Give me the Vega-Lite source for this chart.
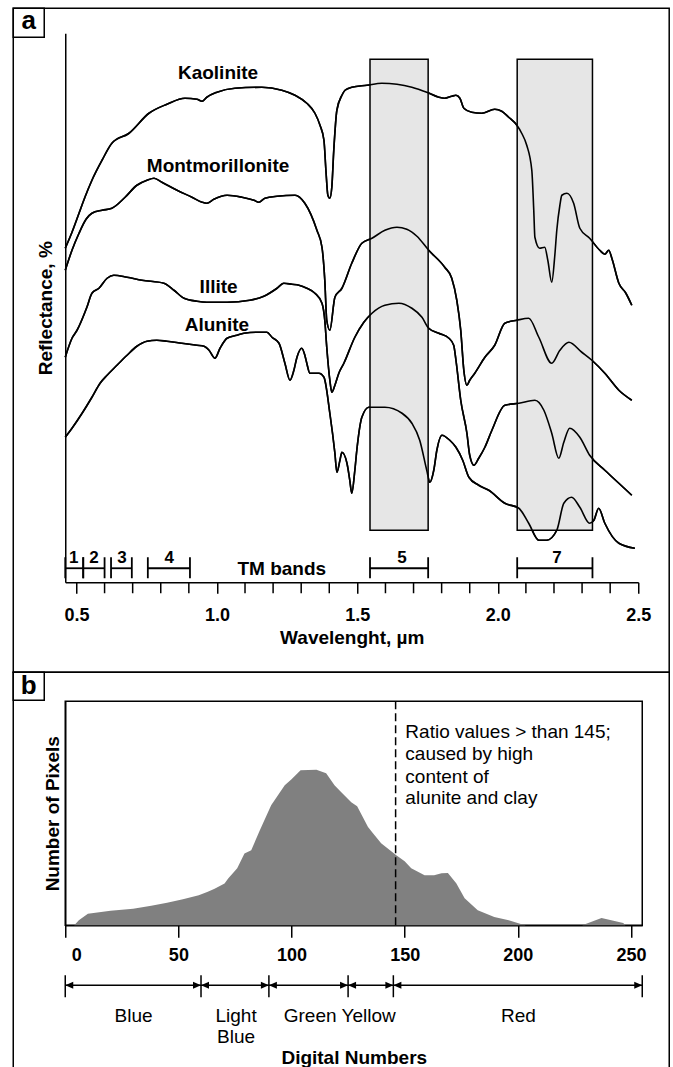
{
  "$schema": "https://vega.github.io/schema/vega-lite/v6.json",
  "background": "white",
  "padding": {"left": 11.25, "top": 7.25, "right": 0, "bottom": 0},
  "spacing": 119,
  "bounds": "flush",
  "config": {
    "font": "Liberation Sans",
    "view": {"stroke": null},
    "axis": {
      "domainColor": "black", "domainWidth": 1.5, "tickColor": "black", "tickWidth": 1.5,
      "labelColor": "black", "titleColor": "black", "labelFont": "Liberation Sans", "titleFont": "Liberation Sans",
      "labelFontWeight": "bold", "titleFontWeight": "bold", "labelFontSize": 18, "titleFontSize": 19,
      "grid": false, "labelOverlap": false, "labelBound": false
    }
  },
  "datasets": {
    "curves": [
      {"m":"Kaolinite","w":0.46,"r":334},{"m":"Kaolinite","w":0.484,"r":350},{"m":"Kaolinite","w":0.509,"r":369},{"m":"Kaolinite","w":0.53,"r":385},{"m":"Kaolinite","w":0.555,"r":402},{"m":"Kaolinite","w":0.591,"r":422},{"m":"Kaolinite","w":0.626,"r":439},{"m":"Kaolinite","w":0.687,"r":449},{"m":"Kaolinite","w":0.758,"r":469},{"m":"Kaolinite","w":0.822,"r":478},{"m":"Kaolinite","w":0.886,"r":484},{"m":"Kaolinite","w":0.929,"r":483},{"m":"Kaolinite","w":0.947,"r":481},{"m":"Kaolinite","w":0.964,"r":485},{"m":"Kaolinite","w":1.0,"r":490},{"m":"Kaolinite","w":1.064,"r":494},{"m":"Kaolinite","w":1.16,"r":495},{"m":"Kaolinite","w":1.231,"r":492},{"m":"Kaolinite","w":1.278,"r":487},{"m":"Kaolinite","w":1.32,"r":479},{"m":"Kaolinite","w":1.349,"r":469},{"m":"Kaolinite","w":1.367,"r":457},{"m":"Kaolinite","w":1.381,"r":442},{"m":"Kaolinite","w":1.388,"r":412},{"m":"Kaolinite","w":1.395,"r":387},{"m":"Kaolinite","w":1.402,"r":384},{"m":"Kaolinite","w":1.409,"r":395},{"m":"Kaolinite","w":1.416,"r":432},{"m":"Kaolinite","w":1.427,"r":472},{"m":"Kaolinite","w":1.445,"r":487},{"m":"Kaolinite","w":1.456,"r":492},{"m":"Kaolinite","w":1.48,"r":495},{"m":"Kaolinite","w":1.534,"r":497},{"m":"Kaolinite","w":1.587,"r":499},{"m":"Kaolinite","w":1.641,"r":498},{"m":"Kaolinite","w":1.694,"r":495},{"m":"Kaolinite","w":1.747,"r":490},{"m":"Kaolinite","w":1.79,"r":485},{"m":"Kaolinite","w":1.811,"r":484},{"m":"Kaolinite","w":1.836,"r":486},{"m":"Kaolinite","w":1.851,"r":487},{"m":"Kaolinite","w":1.865,"r":484},{"m":"Kaolinite","w":1.879,"r":474},{"m":"Kaolinite","w":1.907,"r":470},{"m":"Kaolinite","w":1.943,"r":469},{"m":"Kaolinite","w":1.989,"r":473},{"m":"Kaolinite","w":2.014,"r":471},{"m":"Kaolinite","w":2.039,"r":465},{"m":"Kaolinite","w":2.068,"r":457},{"m":"Kaolinite","w":2.085,"r":449},{"m":"Kaolinite","w":2.103,"r":437},{"m":"Kaolinite","w":2.121,"r":412},{"m":"Kaolinite","w":2.128,"r":372},{"m":"Kaolinite","w":2.132,"r":345},{"m":"Kaolinite","w":2.149,"r":334},{"m":"Kaolinite","w":2.167,"r":335},{"m":"Kaolinite","w":2.178,"r":322},{"m":"Kaolinite","w":2.192,"r":300},{"m":"Kaolinite","w":2.203,"r":327},{"m":"Kaolinite","w":2.21,"r":352},{"m":"Kaolinite","w":2.221,"r":377},{"m":"Kaolinite","w":2.228,"r":387},{"m":"Kaolinite","w":2.246,"r":389},{"m":"Kaolinite","w":2.27,"r":379},{"m":"Kaolinite","w":2.292,"r":354},{"m":"Kaolinite","w":2.327,"r":344},{"m":"Kaolinite","w":2.363,"r":332},{"m":"Kaolinite","w":2.381,"r":328},{"m":"Kaolinite","w":2.395,"r":332},{"m":"Kaolinite","w":2.406,"r":324},{"m":"Kaolinite","w":2.431,"r":299},{"m":"Kaolinite","w":2.456,"r":289},{"m":"Kaolinite","w":2.477,"r":277},
      {"m":"Montmorillonite","w":0.46,"r":312},{"m":"Montmorillonite","w":0.484,"r":332},{"m":"Montmorillonite","w":0.509,"r":349},{"m":"Montmorillonite","w":0.534,"r":363},{"m":"Montmorillonite","w":0.555,"r":369},{"m":"Montmorillonite","w":0.591,"r":372},{"m":"Montmorillonite","w":0.626,"r":374},{"m":"Montmorillonite","w":0.673,"r":385},{"m":"Montmorillonite","w":0.715,"r":397},{"m":"Montmorillonite","w":0.751,"r":402},{"m":"Montmorillonite","w":0.776,"r":404},{"m":"Montmorillonite","w":0.804,"r":400},{"m":"Montmorillonite","w":0.858,"r":392},{"m":"Montmorillonite","w":0.911,"r":385},{"m":"Montmorillonite","w":0.947,"r":380},{"m":"Montmorillonite","w":0.964,"r":379},{"m":"Montmorillonite","w":0.989,"r":383},{"m":"Montmorillonite","w":1.036,"r":387},{"m":"Montmorillonite","w":1.089,"r":385},{"m":"Montmorillonite","w":1.132,"r":382},{"m":"Montmorillonite","w":1.149,"r":380},{"m":"Montmorillonite","w":1.171,"r":384},{"m":"Montmorillonite","w":1.214,"r":386},{"m":"Montmorillonite","w":1.278,"r":387},{"m":"Montmorillonite","w":1.313,"r":379},{"m":"Montmorillonite","w":1.356,"r":352},{"m":"Montmorillonite","w":1.374,"r":335},{"m":"Montmorillonite","w":1.384,"r":302},{"m":"Montmorillonite","w":1.391,"r":262},{"m":"Montmorillonite","w":1.402,"r":252},{"m":"Montmorillonite","w":1.42,"r":285},{"m":"Montmorillonite","w":1.445,"r":294},{"m":"Montmorillonite","w":1.48,"r":319},{"m":"Montmorillonite","w":1.516,"r":339},{"m":"Montmorillonite","w":1.552,"r":344},{"m":"Montmorillonite","w":1.598,"r":352},{"m":"Montmorillonite","w":1.641,"r":355},{"m":"Montmorillonite","w":1.676,"r":353},{"m":"Montmorillonite","w":1.712,"r":346},{"m":"Montmorillonite","w":1.754,"r":332},{"m":"Montmorillonite","w":1.811,"r":315},{"m":"Montmorillonite","w":1.836,"r":304},{"m":"Montmorillonite","w":1.854,"r":282},{"m":"Montmorillonite","w":1.868,"r":252},{"m":"Montmorillonite","w":1.879,"r":212},{"m":"Montmorillonite","w":1.89,"r":197},{"m":"Montmorillonite","w":1.9,"r":202},{"m":"Montmorillonite","w":1.918,"r":209},{"m":"Montmorillonite","w":1.954,"r":225},{"m":"Montmorillonite","w":1.989,"r":237},{"m":"Montmorillonite","w":2.025,"r":259},{"m":"Montmorillonite","w":2.068,"r":262},{"m":"Montmorillonite","w":2.11,"r":264},{"m":"Montmorillonite","w":2.146,"r":245},{"m":"Montmorillonite","w":2.192,"r":219},{"m":"Montmorillonite","w":2.221,"r":232},{"m":"Montmorillonite","w":2.253,"r":240},{"m":"Montmorillonite","w":2.299,"r":230},{"m":"Montmorillonite","w":2.335,"r":222},{"m":"Montmorillonite","w":2.381,"r":209},{"m":"Montmorillonite","w":2.431,"r":192},{"m":"Montmorillonite","w":2.477,"r":182},
      {"m":"Illite","w":0.46,"r":225},{"m":"Illite","w":0.484,"r":244},{"m":"Illite","w":0.502,"r":252},{"m":"Illite","w":0.537,"r":275},{"m":"Illite","w":0.555,"r":289},{"m":"Illite","w":0.58,"r":294},{"m":"Illite","w":0.609,"r":304},{"m":"Illite","w":0.633,"r":307},{"m":"Illite","w":0.68,"r":305},{"m":"Illite","w":0.733,"r":302},{"m":"Illite","w":0.811,"r":299},{"m":"Illite","w":0.847,"r":292},{"m":"Illite","w":0.883,"r":284},{"m":"Illite","w":0.929,"r":281},{"m":"Illite","w":0.964,"r":280},{"m":"Illite","w":1.036,"r":280},{"m":"Illite","w":1.117,"r":282},{"m":"Illite","w":1.167,"r":286},{"m":"Illite","w":1.214,"r":294},{"m":"Illite","w":1.238,"r":299},{"m":"Illite","w":1.267,"r":298},{"m":"Illite","w":1.292,"r":297},{"m":"Illite","w":1.32,"r":294},{"m":"Illite","w":1.349,"r":289},{"m":"Illite","w":1.374,"r":279},{"m":"Illite","w":1.384,"r":262},{"m":"Illite","w":1.391,"r":235},{"m":"Illite","w":1.402,"r":202},{"m":"Illite","w":1.409,"r":190},{"m":"Illite","w":1.42,"r":197},{"m":"Illite","w":1.434,"r":209},{"m":"Illite","w":1.452,"r":219},{"m":"Illite","w":1.491,"r":245},{"m":"Illite","w":1.523,"r":260},{"m":"Illite","w":1.552,"r":269},{"m":"Illite","w":1.598,"r":277},{"m":"Illite","w":1.648,"r":279},{"m":"Illite","w":1.694,"r":274},{"m":"Illite","w":1.73,"r":265},{"m":"Illite","w":1.754,"r":254},{"m":"Illite","w":1.79,"r":249},{"m":"Illite","w":1.826,"r":244},{"m":"Illite","w":1.843,"r":237},{"m":"Illite","w":1.851,"r":222},{"m":"Illite","w":1.868,"r":182},{"m":"Illite","w":1.89,"r":149},{"m":"Illite","w":1.9,"r":127},{"m":"Illite","w":1.915,"r":117},{"m":"Illite","w":1.932,"r":124},{"m":"Illite","w":1.954,"r":135},{"m":"Illite","w":1.979,"r":152},{"m":"Illite","w":2.025,"r":177},{"m":"Illite","w":2.075,"r":179},{"m":"Illite","w":2.132,"r":182},{"m":"Illite","w":2.164,"r":172},{"m":"Illite","w":2.192,"r":149},{"m":"Illite","w":2.217,"r":124},{"m":"Illite","w":2.235,"r":140},{"m":"Illite","w":2.256,"r":154},{"m":"Illite","w":2.292,"r":145},{"m":"Illite","w":2.327,"r":127},{"m":"Illite","w":2.381,"r":112},{"m":"Illite","w":2.431,"r":99},{"m":"Illite","w":2.477,"r":87},
      {"m":"Alunite","w":0.46,"r":145},{"m":"Alunite","w":0.484,"r":154},{"m":"Alunite","w":0.52,"r":169},{"m":"Alunite","w":0.555,"r":185},{"m":"Alunite","w":0.584,"r":199},{"m":"Alunite","w":0.609,"r":207},{"m":"Alunite","w":0.644,"r":217},{"m":"Alunite","w":0.68,"r":227},{"m":"Alunite","w":0.715,"r":236},{"m":"Alunite","w":0.751,"r":241},{"m":"Alunite","w":0.786,"r":242},{"m":"Alunite","w":0.822,"r":241},{"m":"Alunite","w":0.875,"r":239},{"m":"Alunite","w":0.929,"r":237},{"m":"Alunite","w":0.954,"r":236},{"m":"Alunite","w":0.972,"r":232},{"m":"Alunite","w":0.993,"r":224},{"m":"Alunite","w":1.011,"r":234},{"m":"Alunite","w":1.036,"r":244},{"m":"Alunite","w":1.071,"r":247},{"m":"Alunite","w":1.096,"r":249},{"m":"Alunite","w":1.142,"r":250},{"m":"Alunite","w":1.178,"r":250},{"m":"Alunite","w":1.196,"r":245},{"m":"Alunite","w":1.221,"r":239},{"m":"Alunite","w":1.242,"r":219},{"m":"Alunite","w":1.26,"r":202},{"m":"Alunite","w":1.274,"r":212},{"m":"Alunite","w":1.285,"r":225},{"m":"Alunite","w":1.302,"r":234},{"m":"Alunite","w":1.313,"r":227},{"m":"Alunite","w":1.32,"r":219},{"m":"Alunite","w":1.331,"r":209},{"m":"Alunite","w":1.363,"r":209},{"m":"Alunite","w":1.381,"r":205},{"m":"Alunite","w":1.402,"r":169},{"m":"Alunite","w":1.42,"r":129},{"m":"Alunite","w":1.427,"r":110},{"m":"Alunite","w":1.438,"r":122},{"m":"Alunite","w":1.445,"r":130},{"m":"Alunite","w":1.463,"r":119},{"m":"Alunite","w":1.473,"r":102},{"m":"Alunite","w":1.48,"r":89},{"m":"Alunite","w":1.491,"r":112},{"m":"Alunite","w":1.498,"r":132},{"m":"Alunite","w":1.516,"r":165},{"m":"Alunite","w":1.541,"r":175},{"m":"Alunite","w":1.598,"r":175},{"m":"Alunite","w":1.659,"r":169},{"m":"Alunite","w":1.694,"r":159},{"m":"Alunite","w":1.722,"r":142},{"m":"Alunite","w":1.747,"r":112},{"m":"Alunite","w":1.758,"r":100},{"m":"Alunite","w":1.772,"r":112},{"m":"Alunite","w":1.783,"r":132},{"m":"Alunite","w":1.801,"r":147},{"m":"Alunite","w":1.829,"r":142},{"m":"Alunite","w":1.851,"r":135},{"m":"Alunite","w":1.875,"r":122},{"m":"Alunite","w":1.897,"r":105},{"m":"Alunite","w":1.932,"r":97},{"m":"Alunite","w":1.968,"r":92},{"m":"Alunite","w":2.025,"r":79},{"m":"Alunite","w":2.075,"r":74},{"m":"Alunite","w":2.11,"r":59},{"m":"Alunite","w":2.146,"r":42},{"m":"Alunite","w":2.174,"r":42},{"m":"Alunite","w":2.21,"r":52},{"m":"Alunite","w":2.235,"r":79},{"m":"Alunite","w":2.263,"r":85},{"m":"Alunite","w":2.292,"r":75},{"m":"Alunite","w":2.327,"r":59},{"m":"Alunite","w":2.342,"r":62},{"m":"Alunite","w":2.359,"r":74},{"m":"Alunite","w":2.381,"r":59},{"m":"Alunite","w":2.431,"r":39},{"m":"Alunite","w":2.488,"r":34}
    ],
    "curveLabels": [
      {"t":"Kaolinite","w":1.004,"r":509},
      {"t":"Montmorillonite","w":1.004,"r":416},
      {"t":"Illite","w":1.006,"r":295},
      {"t":"Alunite","w":1.0,"r":257}
    ],
    "minorTicks": [
      {"v":0.6},{"v":0.7},{"v":0.8},{"v":0.9},{"v":1.1},{"v":1.2},{"v":1.3},{"v":1.4},{"v":1.6},{"v":1.7},{"v":1.8},{"v":1.9},{"v":2.1},{"v":2.2},{"v":2.3},{"v":2.4}
    ],
    "tmBands": [
      {"b":"1","s":0.46,"e":0.524,"c":0.49},
      {"b":"2","s":0.524,"e":0.6,"c":0.562},
      {"b":"3","s":0.623,"e":0.697,"c":0.662},
      {"b":"4","s":0.754,"e":0.904,"c":0.83},
      {"b":"5","s":1.545,"e":1.752,"c":1.659},
      {"b":"7","s":2.069,"e":2.337,"c":2.211}
    ],
    "tmRects": [
      {"b":"5","s":1.545,"e":1.752},
      {"b":"7","s":2.069,"e":2.337}
    ],
    "hist": [
      {"dn":4,"n":0},{"dn":6,"n":5},{"dn":10,"n":11.5},{"dn":15,"n":13},{"dn":20,"n":14.5},{"dn":30,"n":16.5},{"dn":38,"n":19.5},{"dn":45,"n":22.5},{"dn":52,"n":26},{"dn":59,"n":30},{"dn":63,"n":33.5},{"dn":66,"n":36.5},{"dn":70.4,"n":41.7},{"dn":72,"n":46.7},{"dn":76,"n":57},{"dn":79.2,"n":71.7},{"dn":82.2,"n":75},{"dn":86,"n":95},{"dn":91,"n":120},{"dn":94,"n":130},{"dn":97,"n":140},{"dn":100,"n":146},{"dn":104,"n":155},{"dn":111,"n":155.5},{"dn":115.3,"n":152},{"dn":119,"n":140},{"dn":122,"n":133},{"dn":126.4,"n":123},{"dn":129,"n":119},{"dn":133.8,"n":98.3},{"dn":136,"n":92},{"dn":139.6,"n":82},{"dn":146.3,"n":70},{"dn":150,"n":64},{"dn":152.9,"n":57},{"dn":158.8,"n":50},{"dn":163,"n":50},{"dn":166.3,"n":52},{"dn":169.1,"n":52.3},{"dn":172.8,"n":42},{"dn":176.5,"n":27},{"dn":182.3,"n":15},{"dn":189.6,"n":8.3},{"dn":196,"n":5},{"dn":201.7,"n":1},{"dn":203.5,"n":0},{"dn":228.5,"n":0},{"dn":237,"n":7.3},{"dn":246.6,"n":2.3},{"dn":247.5,"n":0}
    ],
    "notes": [
      {"t":"Ratio values > than 145;","dn":150.3,"n":193},
      {"t":"caused by high","dn":150.3,"n":171},
      {"t":"content of","dn":150.3,"n":148},
      {"t":"alunite and clay","dn":150.3,"n":127}
    ],
    "ranges": [
      {"s":0,"e":60},{"s":60,"e":90},{"s":90,"e":125},{"s":125,"e":145},{"s":145,"e":255}
    ],
    "bounds": [{"v":0},{"v":60},{"v":90},{"v":125},{"v":145},{"v":255}],
    "rangeLabels": [
      {"t":"Blue","dn":30.2,"n":-91},
      {"t":"Light","dn":75.5,"n":-91},
      {"t":"Blue","dn":75.5,"n":-112},
      {"t":"Green Yellow","dn":121.3,"n":-91},
      {"t":"Red","dn":200.3,"n":-91}
    ]
  },
  "vconcat": [
    {
      "width": 573,
      "height": 549,
      "view": {"stroke": null},
      "layer": [
        {
          "data": {"name": "curves"},
          "mark": {"type": "line", "color": "black", "strokeWidth": 1.6, "interpolate": "monotone"},
          "encoding": {
            "x": {
              "field": "w", "type": "quantitative",
              "scale": {"domain": [0.46, 2.5], "nice": false, "zero": false},
              "axis": {
                "title": "Wavelenght, µm",
                "values": [0.5, 1.0, 1.5, 2.0, 2.5],
                "format": ".1f",
                "tickSize": 11, "labelPadding": 13, "titlePadding": 4, "labelFlush": false,
                "labelOverlap": false
              }
            },
            "y": {
              "field": "r", "type": "quantitative",
              "scale": {"domain": [0, 549], "nice": false, "zero": false},
              "axis": {"title": "Reflectance, %", "ticks": false, "labels": false, "titlePadding": 10}
            },
            "detail": {"field": "m"}
          }
        },
        {
          "data": {"name": "minorTicks"},
          "mark": {"type": "rule", "color": "black", "strokeWidth": 1.5},
          "encoding": {
            "x": {"field": "v", "type": "quantitative"},
            "y": {"datum": 0, "type": "quantitative"},
            "y2": {"datum": -11}
          }
        },
        {
          "data": {"values": [{}]},
          "mark": {"type": "rect", "fillOpacity": 0, "stroke": "black", "strokeWidth": 1.5},
          "encoding": {
            "x": {"datum": 0.2749, "type": "quantitative"},
            "x2": {"datum": 2.6102},
            "y": {"datum": 574, "type": "quantitative"},
            "y2": {"datum": -90}
          }
        },
        {
          "data": {"values": [{}]},
          "mark": {"type": "rect", "fillOpacity": 0, "stroke": "black", "strokeWidth": 1.5},
          "encoding": {
            "x": {"datum": 0.2749, "type": "quantitative"},
            "x2": {"datum": 0.3852},
            "y": {"datum": 574, "type": "quantitative"},
            "y2": {"datum": 545}
          }
        },
        {
          "data": {"values": [{}]},
          "mark": {"type": "text", "text": "a", "fontSize": 26, "fontWeight": "bold", "color": "black", "align": "center", "baseline": "middle"},
          "encoding": {
            "x": {"datum": 0.3301, "type": "quantitative"},
            "y": {"datum": 561, "type": "quantitative"}
          }
        },
        {
          "data": {"name": "tmRects"},
          "mark": {"type": "rect", "fill": "#e6e6e6", "stroke": "black", "strokeWidth": 1.5},
          "encoding": {
            "x": {"field": "s", "type": "quantitative"},
            "x2": {"field": "e"},
            "y": {"datum": 52, "type": "quantitative"},
            "y2": {"datum": 523}
          }
        },
        {
          "data": {"name": "curves"},
          "mark": {"type": "line", "color": "black", "strokeWidth": 1.6, "interpolate": "monotone"},
          "encoding": {
            "x": {"field": "w", "type": "quantitative"},
            "y": {"field": "r", "type": "quantitative"},
            "detail": {"field": "m"}
          }
        },
        {
          "data": {"name": "curveLabels"},
          "mark": {"type": "text", "fontSize": 19, "fontWeight": "bold", "color": "black", "align": "center", "baseline": "middle"},
          "encoding": {
            "x": {"field": "w", "type": "quantitative"},
            "y": {"field": "r", "type": "quantitative"},
            "text": {"field": "t"}
          }
        },
        {
          "data": {"name": "tmBands"},
          "mark": {"type": "rule", "color": "black", "strokeWidth": 1.8},
          "encoding": {
            "x": {"field": "s", "type": "quantitative"},
            "x2": {"field": "e"},
            "y": {"datum": 14, "type": "quantitative"}
          }
        },
        {
          "data": {"name": "tmBands"},
          "mark": {"type": "rule", "color": "black", "strokeWidth": 1.8},
          "encoding": {
            "x": {"field": "s", "type": "quantitative"},
            "y": {"datum": 4, "type": "quantitative"},
            "y2": {"datum": 25}
          }
        },
        {
          "data": {"name": "tmBands"},
          "mark": {"type": "rule", "color": "black", "strokeWidth": 1.8},
          "encoding": {
            "x": {"field": "e", "type": "quantitative"},
            "y": {"datum": 4, "type": "quantitative"},
            "y2": {"datum": 25}
          }
        },
        {
          "data": {"name": "tmBands"},
          "mark": {"type": "text", "fontSize": 17, "fontWeight": "bold", "color": "black", "align": "center", "baseline": "alphabetic"},
          "encoding": {
            "x": {"field": "c", "type": "quantitative"},
            "y": {"datum": 19, "type": "quantitative"},
            "text": {"field": "b"}
          }
        },
        {
          "data": {"values": [{}]},
          "mark": {"type": "text", "text": "TM bands", "fontSize": 19, "fontWeight": "bold", "color": "black", "align": "center", "baseline": "alphabetic"},
          "encoding": {
            "x": {"datum": 1.231, "type": "quantitative"},
            "y": {"datum": 7, "type": "quantitative"}
          }
        }
      ]
    },
    {
      "width": 577,
      "height": 224,
      "view": {"stroke": "black", "strokeWidth": 1.5},
      "layer": [
        {
          "data": {"name": "hist"},
          "mark": {"type": "area", "color": "#808080", "opacity": 1, "interpolate": "linear"},
          "encoding": {
            "x": {
              "field": "dn", "type": "quantitative",
              "scale": {"domain": [0, 255], "nice": false, "zero": false},
              "axis": {
                "title": "Digital Numbers",
                "values": [0, 50, 100, 150, 200, 250],
                "tickSize": 12, "labelPadding": 9, "titlePadding": 84,
                "labelFlush": true, "labelFlushOffset": -6, "labelOverlap": false
              }
            },
            "y": {
              "field": "n", "type": "quantitative",
              "scale": {"domain": [0, 224], "nice": false, "zero": false},
              "axis": {"title": "Number of Pixels", "ticks": false, "labels": false, "titlePadding": 3}
            }
          }
        },
        {
          "data": {"values": [{}]},
          "mark": {"type": "rect", "fillOpacity": 0, "stroke": "black", "strokeWidth": 1.5},
          "encoding": {
            "x": {"datum": -22.98, "type": "quantitative"},
            "x2": {"datum": 266.93},
            "y": {"datum": 253, "type": "quantitative"},
            "y2": {"datum": -145}
          }
        },
        {
          "data": {"values": [{}]},
          "mark": {"type": "rect", "fillOpacity": 0, "stroke": "black", "strokeWidth": 1.5},
          "encoding": {
            "x": {"datum": -22.98, "type": "quantitative"},
            "x2": {"datum": -9.28},
            "y": {"datum": 253, "type": "quantitative"},
            "y2": {"datum": 225}
          }
        },
        {
          "data": {"values": [{}]},
          "mark": {"type": "text", "text": "b", "fontSize": 26, "fontWeight": "bold", "color": "black", "align": "center", "baseline": "middle"},
          "encoding": {
            "x": {"datum": -16.13, "type": "quantitative"},
            "y": {"datum": 239, "type": "quantitative"}
          }
        },
        {
          "data": {"values": [{}]},
          "mark": {"type": "rule", "color": "black", "strokeWidth": 1.5, "strokeDash": [8, 4]},
          "encoding": {
            "x": {"datum": 146, "type": "quantitative"},
            "y": {"datum": 0, "type": "quantitative"},
            "y2": {"datum": 224}
          }
        },
        {
          "data": {"name": "notes"},
          "mark": {"type": "text", "fontSize": 19, "color": "black", "align": "left", "baseline": "middle"},
          "encoding": {
            "x": {"field": "dn", "type": "quantitative"},
            "y": {"field": "n", "type": "quantitative"},
            "text": {"field": "t"}
          }
        },
        {
          "data": {"name": "ranges"},
          "mark": {"type": "rule", "color": "black", "strokeWidth": 1.5},
          "encoding": {
            "x": {"field": "s", "type": "quantitative"},
            "x2": {"field": "e"},
            "y": {"datum": -60, "type": "quantitative"}
          }
        },
        {
          "data": {"name": "bounds"},
          "mark": {"type": "rule", "color": "black", "strokeWidth": 1.5},
          "encoding": {
            "x": {"field": "v", "type": "quantitative"},
            "y": {"datum": -50, "type": "quantitative"},
            "y2": {"datum": -72}
          }
        },
        {
          "data": {"name": "ranges"},
          "mark": {"type": "point", "shape": "M0,0L2,-0.875L2,0.875Z", "size": 64, "filled": true, "color": "black", "opacity": 1, "strokeWidth": 0},
          "encoding": {
            "x": {"field": "s", "type": "quantitative"},
            "y": {"datum": -60, "type": "quantitative"}
          }
        },
        {
          "data": {"name": "ranges"},
          "mark": {"type": "point", "shape": "M0,0L-2,-0.875L-2,0.875Z", "size": 64, "filled": true, "color": "black", "opacity": 1, "strokeWidth": 0},
          "encoding": {
            "x": {"field": "e", "type": "quantitative"},
            "y": {"datum": -60, "type": "quantitative"}
          }
        },
        {
          "data": {"name": "rangeLabels"},
          "mark": {"type": "text", "fontSize": 19, "color": "black", "align": "center", "baseline": "middle"},
          "encoding": {
            "x": {"field": "dn", "type": "quantitative"},
            "y": {"field": "n", "type": "quantitative"},
            "text": {"field": "t"}
          }
        }
      ]
    }
  ]
}
